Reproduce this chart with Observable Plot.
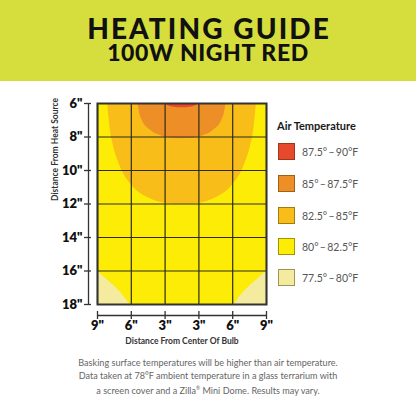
<!DOCTYPE html>
<html>
<head>
<meta charset="utf-8">
<script src="https://cdn.jsdelivr.net/npm/d3@7"></script>
<script src="https://cdn.jsdelivr.net/npm/@observablehq/plot@0.6"></script>
<style>
  html, body { margin: 0; padding: 0; background: #fff; width: 416px; height: 416px; overflow: hidden; }
  body { position: relative; font-family: "Lato", "DejaVu Sans", sans-serif; }
  #banner { position: absolute; left: 0; top: 0; width: 416px; height: 81px; background: #d6de3d; }
  #t1 { position: absolute; left: 1px; width: 416px; top: 15px; text-align: center; font-size: 28px; font-weight: 900; color: #111; line-height: 26px; letter-spacing: 2.1px; }
  #t2 { position: absolute; left: 0; width: 416px; top: 42px; text-align: center; font-size: 23px; font-weight: 900; color: #111; line-height: 21px; letter-spacing: 0.6px; }
  #chart { position: absolute; left: 0; top: 80px; }
  #legend { position: absolute; left: 277px; top: 118px; }
  #legend .ttl { position: absolute; left: 0; top: 0; font-size: 11px; font-weight: 700; color: #1a1a1a; white-space: nowrap; line-height: 15px; }
  #legend .sw { position: absolute; left: 1px; width: 17px; height: 17px; box-sizing: border-box; border: 1px solid rgba(60,40,0,0.45); }
  #legend .lb { position: absolute; left: 25px; font-size: 10.5px; color: #555; white-space: nowrap; line-height: 18px; }
  #caption { position: absolute; left: 0; top: 357px; width: 416px; text-align: center; font-size: 9.1px; line-height: 12.5px; color: #666; }
</style>
</head>
<body>
<div id="banner"><div id="t1">HEATING GUIDE</div><div id="t2">100W NIGHT RED</div></div>
<div id="chart"></div>
<div id="legend"></div>
<div id="caption">Basking surface temperatures will be higher than air temperature.<br>Data taken at 78°F ambient temperature in a glass terrarium with<br>a screen cover and a Zilla<sup style="font-size:5px">®</sup> Mini Dome. Results may vary.</div>
<script>
// Axis ticks (x in grid columns, labelled as inches from bulb centre)
const xTickPos = [0, 1, 2, 3, 4, 5];
const xTickLabels = ['9"', '6"', '3"', '3"', '6"', '9"'];
const yTicks = [6, 8, 10, 12, 14, 16, 18];

// Legend bands
const bandLabels = ["87.5°\u2009–\u200990°F", "85°\u2009–\u200987.5°F", "82.5°\u2009–\u200985°F", "80°\u2009–\u200982.5°F", "77.5°\u2009–\u200980°F"];
const bandColors = ["#e8482b", "#ee8e26", "#f8bd18", "#fcec06", "#f4eb9f"];

// Band boundaries (x: grid column, y: inches from source)
const redX = [2.0, 2.1, 2.25, 2.5, 2.75, 2.9, 3.0];
const redY = [6.0, 6.14, 6.22, 6.25, 6.22, 6.14, 6.0];
const orangeX = [1.2, 1.24, 1.32, 1.57, 1.91, 2.2, 2.5, 2.8, 3.09, 3.43, 3.68, 3.76, 3.8];
const orangeY = [6.0, 6.5, 7.0, 7.6, 7.95, 8.07, 8.1, 8.07, 7.95, 7.6, 7.0, 6.5, 6.0];
const amberX = [0.3, 0.38, 0.48, 0.68, 0.98, 1.47, 2.01, 2.5, 2.99, 3.53, 4.02, 4.32, 4.52, 4.62, 4.7];
const amberY = [6.0, 7.6, 8.6, 9.8, 10.8, 11.6, 11.95, 12.0, 11.95, 11.6, 10.8, 9.8, 8.6, 7.6, 6.0];
const paleLeftX = [0, 0.24, 0.48, 0.68, 0.83, 0.95];
const paleLeftY = [16.0, 16.45, 16.87, 17.27, 17.64, 18.0];
const paleRightX = [4.05, 4.17, 4.32, 4.52, 4.76, 5.0];
const paleRightY = [18.0, 17.64, 17.27, 16.87, 16.45, 16.0];

const topBand = (xs, ys) => xs.map((x, i) => ({x, top: 6, y: ys[i]}));
const bottomBand = (xs, ys) => xs.map((x, i) => ({x, y: ys[i], bottom: 18}));

const ink = "#2c2b1e";
const chart = Plot.plot({
  width: 416,
  height: 274,
  marginLeft: 97,
  marginRight: 150,
  marginTop: 23,
  marginBottom: 50,
  style: {background: "transparent", fontFamily: "Lato, 'DejaVu Sans', sans-serif", color: "#111"},
  x: {domain: [0, 5], axis: null},
  y: {domain: [6, 18], reverse: true, axis: null},
  marks: [
    Plot.frame({fill: bandColors[3], stroke: null}),
    Plot.areaY(bottomBand(paleLeftX, paleLeftY), {x: "x", y1: "y", y2: "bottom", fill: bandColors[4], curve: "monotone-x"}),
    Plot.areaY(bottomBand(paleRightX, paleRightY), {x: "x", y1: "y", y2: "bottom", fill: bandColors[4], curve: "monotone-x"}),
    Plot.areaY(topBand(amberX, amberY), {x: "x", y1: "top", y2: "y", fill: bandColors[2], curve: "monotone-x"}),
    Plot.areaY(topBand(orangeX, orangeY), {x: "x", y1: "top", y2: "y", fill: bandColors[1], curve: "monotone-x"}),
    Plot.areaY(topBand(redX, redY), {x: "x", y1: "top", y2: "y", fill: bandColors[0], curve: "monotone-x"}),
    Plot.gridX({ticks: xTickPos, stroke: ink, strokeOpacity: 1, strokeWidth: 1.2}),
    Plot.gridY({ticks: yTicks, stroke: ink, strokeOpacity: 1, strokeWidth: 1.2}),
    Plot.frame({stroke: "#333", strokeWidth: 2}),
    // y axis (offset to the left of the frame)
    Plot.ruleX([{x: 0, y1: 6, y2: 18}], {x: "x", y1: "y1", y2: "y2", dx: -9, stroke: "#333", strokeWidth: 1.3}),
    Plot.axisY({ticks: yTicks, tickFormat: d => d + '"', tickSize: 7, dx: -6, tickPadding: 2, fontSize: 13, fontWeight: 800, stroke: "#333", strokeWidth: 1.3, fill: "#111", label: null}),
    // x axis (offset below the frame)
    Plot.ruleY([{y: 18, x1: 0, x2: 5}], {y: "y", x1: "x1", x2: "x2", dy: 11, stroke: "#333", strokeWidth: 1.3}),
    Plot.axisX({ticks: xTickPos, tickFormat: d => xTickLabels[xTickPos.indexOf(d)], tickSize: 8, dy: 7, tickPadding: 1, fontSize: 13, fontWeight: 800, stroke: "#333", strokeWidth: 1.3, fill: "#111", label: null}),
    Plot.text(["Distance From Center Of Bulb"], {frameAnchor: "bottom", dy: 37, lineAnchor: "middle", fontSize: 8.5, fontWeight: 700, fill: "#333"}),
    Plot.text(["Distance From Heat Source"], {frameAnchor: "left", rotate: -90, dx: -42, dy: -3, fontSize: 8.5, fontWeight: 700, fill: "#333"})
  ]
});
document.getElementById("chart").appendChild(chart);

// Legend
const legend = document.getElementById("legend");
const ttl = document.createElement("div");
ttl.className = "ttl"; ttl.textContent = "Air Temperature";
legend.appendChild(ttl);
const swatchTops = [25, 57, 89, 120, 151];
bandLabels.forEach((lab, i) => {
  const sw = document.createElement("div");
  sw.className = "sw"; sw.style.top = swatchTops[i] + "px"; sw.style.background = bandColors[i];
  legend.appendChild(sw);
  const lb = document.createElement("div");
  lb.className = "lb"; lb.style.top = swatchTops[i] + "px"; lb.textContent = lab;
  legend.appendChild(lb);
});
</script>
</body>
</html>
